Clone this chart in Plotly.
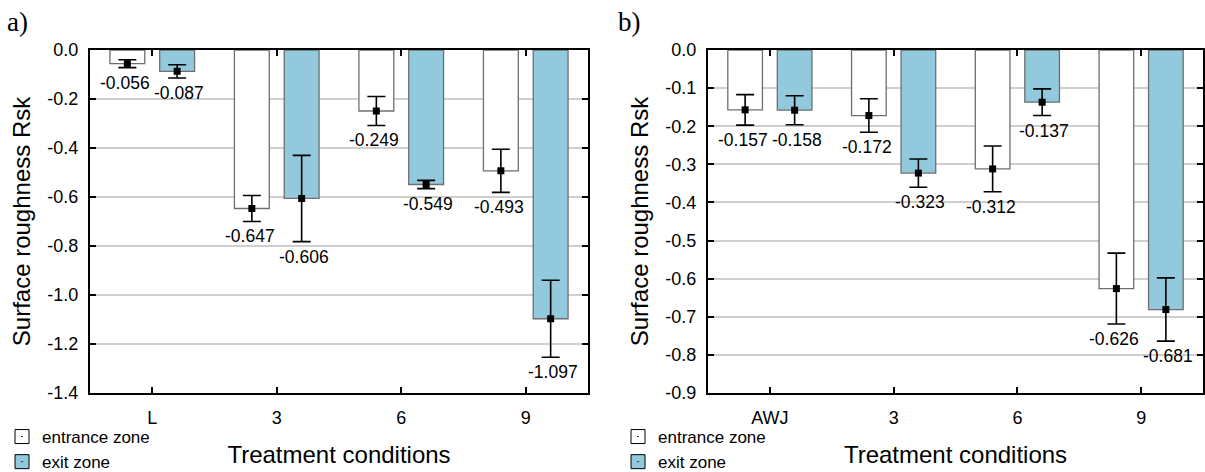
import numpy as np
import plotly.graph_objects as go

# ---------------- data ----------------
cats_a = ["L", "3", "6", "9"]
entr_a = [-0.056, -0.647, -0.249, -0.493]
exit_a = [-0.087, -0.606, -0.549, -1.097]
entr_a_err = [0.016, 0.053, 0.059, 0.088]
exit_a_err = [0.027, 0.176, 0.017, 0.157]
yticks_a = [0.0, -0.2, -0.4, -0.6, -0.8, -1.0, -1.2, -1.4]

cats_b = ["AWJ", "3", "6", "9"]
entr_b = [-0.157, -0.172, -0.312, -0.626]
exit_b = [-0.158, -0.323, -0.137, -0.681]
entr_b_err = [0.040, 0.044, 0.060, 0.093]
exit_b_err = [0.038, 0.037, 0.035, 0.083]
yticks_b = [0.0, -0.1, -0.2, -0.3, -0.4, -0.5, -0.6, -0.7, -0.8, -0.9]

series_names = ["entrance zone", "exit zone"]
# ---------------- style ----------------
W, H = 1205, 472
FONT = "Liberation Sans, Arial, sans-serif"
BLUE = "#93c9dd"
EDGE = "#6f6f6f"
OFF = 0.2
BW = 0.28
fills = ["white", BLUE]
label_xshift = [-2, 2]

fig = go.Figure()

panels = [
    dict(cats=cats_a, vals=[entr_a, exit_a], errs=[entr_a_err, exit_a_err],
         yticks=yticks_a, xa="x", ya="y", legend="legend"),
    dict(cats=cats_b, vals=[entr_b, exit_b], errs=[entr_b_err, exit_b_err],
         yticks=yticks_b, xa="x2", ya="y2", legend="legend2"),
]

annotations = []
for p in panels:
    idx = np.arange(len(p["cats"]))
    for k, (vals, errs) in enumerate(zip(p["vals"], p["errs"])):
        xs = idx + (-OFF if k == 0 else OFF)
        fig.add_trace(go.Bar(
            x=xs, y=vals, width=BW, xaxis=p["xa"], yaxis=p["ya"],
            marker=dict(color=fills[k], line=dict(color=EDGE, width=1.3)),
            showlegend=False, hoverinfo="skip"))
        fig.add_trace(go.Scatter(
            x=xs, y=vals, mode="markers", xaxis=p["xa"], yaxis=p["ya"],
            marker=dict(symbol="square", size=7, color="black"),
            error_y=dict(type="data", array=errs, symmetric=True,
                         color="black", thickness=1.6, width=9),
            showlegend=False, hoverinfo="skip"))
        for xv, v, e in zip(xs, vals, errs):
            annotations.append(dict(
                x=xv, y=v - e, xref=p["xa"], yref=p["ya"],
                text=f"{v:.3f}", showarrow=False, yanchor="top",
                yshift=-3, xshift=label_xshift[k],
                font=dict(family=FONT, size=17.5, color="black")))
    # legend entries
    for k in range(2):
        fig.add_trace(go.Scatter(
            x=[None], y=[None], mode="markers", xaxis=p["xa"], yaxis=p["ya"],
            name=series_names[k], legend=p["legend"],
            marker=dict(symbol="square-dot", size=14, color=fills[k],
                        line=dict(color="black", width=1))))

dom_a = [90 / W, 588 / W]
dom_b = [708 / W, 1203 / W]
dom_y = [1 - 393 / H, 1 - 50 / H]

def xax(dom, cats, anchor):
    return dict(domain=dom, anchor=anchor, range=[-0.5, len(cats) - 0.5],
                tickvals=list(range(len(cats))), ticktext=cats,
                ticks="inside", ticklen=6, tickwidth=1.5, tickcolor="black",
                showline=True, linewidth=2, linecolor="black", mirror="ticks",
                showgrid=False, zeroline=False, ticklabelstandoff=7,
                automargin=False,
                tickfont=dict(family=FONT, size=18, color="black"),
                title=dict(text="Treatment conditions", standoff=20,
                           font=dict(family=FONT, size=24, color="black")))

def yax(ticks, anchor):
    return dict(domain=dom_y, anchor=anchor, range=[ticks[-1], ticks[0]],
                tickvals=ticks, ticktext=[f"{t:.1f}" for t in ticks],
                ticks="inside", ticklen=6, tickwidth=1.5, tickcolor="black",
                showline=True, linewidth=2, linecolor="black", mirror="ticks",
                showgrid=True, gridcolor="#cfcfcf", gridwidth=1.5,
                zeroline=False, ticklabelstandoff=6, automargin=False,
                tickfont=dict(family=FONT, size=18, color="black"),
                title=dict(text="Surface roughness Rsk", standoff=10,
                           font=dict(family=FONT, size=24, color="black")))

annotations += [
    dict(x=5 / W, y=1 - 22 / H, xref="paper", yref="paper", text="a)",
         showarrow=False, xanchor="left", yanchor="middle",
         font=dict(family="Liberation Serif, Times New Roman, serif", size=27, color="black")),
    dict(x=616 / W, y=1 - 22 / H, xref="paper", yref="paper", text="b)",
         showarrow=False, xanchor="left", yanchor="middle",
         font=dict(family="Liberation Serif, Times New Roman, serif", size=27, color="black")),
]

leg = dict(bgcolor="rgba(0,0,0,0)", borderwidth=0, xanchor="left", yanchor="bottom",
           font=dict(family=FONT, size=17, color="black"), itemsizing="trace",
           tracegroupgap=0)

fig.update_layout(
    width=W, height=H, margin=dict(l=0, r=0, t=0, b=0, autoexpand=False),
    paper_bgcolor="white", plot_bgcolor="white",
    xaxis=xax(dom_a, cats_a, "y"), yaxis=yax(yticks_a, "x"),
    xaxis2=xax(dom_b, cats_b, "y2"), yaxis2=yax(yticks_b, "x2"),
    annotations=annotations,
    legend=dict(leg, x=2 / W, y=-8 / H),
    legend2=dict(leg, x=618 / W, y=-8 / H),
    showlegend=True,
)

fig.write_html("out.html", config={"displayModeBar": False},
               post_script="document.body.style.margin='0';document.body.style.overflow='hidden';")
